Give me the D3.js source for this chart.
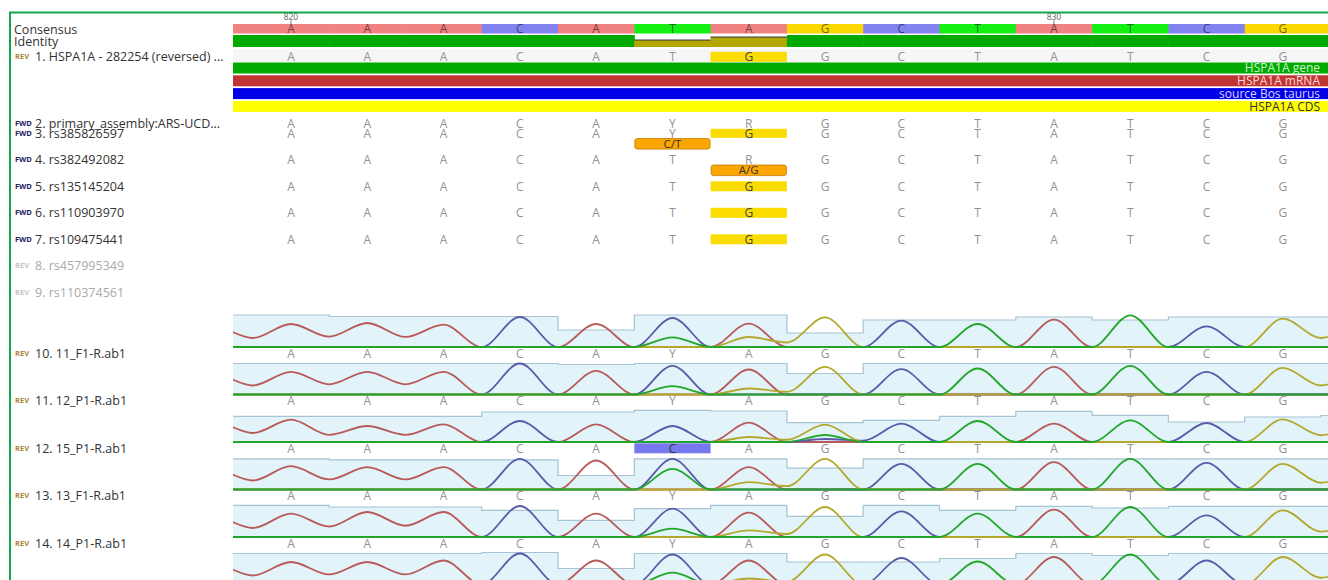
<!DOCTYPE html>
<html>
<head>
<meta charset="utf-8">
<script src="https://cdn.jsdelivr.net/npm/d3@7"></script>
<style>
  body { margin: 0; background: #fff; }
  text { font-family: "Open Sans", "Noto Sans", sans-serif; }
</style>
</head>
<body>
<div id="chart"></div>
<script>
// Alignment columns, including the partial column on each edge
var positions = d3.range(819, 835);
var rulerTicks = [820, 830];
var consensus = ["A","A","A","A","C","A","T","A","G","C","T","A","T","C","G","G"];
var identity = [1, 1, 1, 1, 1, 1, 0.58, 0.83, 1, 1, 1, 1, 1, 1, 1, 1];

// Track names and direction tags
var trackNames = [
  "1. HSPA1A - 282254 (reversed) ...",
  "2. primary_assembly:ARS-UCD...",
  "3. rs385826597",
  "4. rs382492082",
  "5. rs135145204",
  "6. rs110903970",
  "7. rs109475441",
  "8. rs457995349",
  "9. rs110374561",
  "10. 11_F1-R.ab1",
  "11. 12_P1-R.ab1",
  "12. 15_P1-R.ab1",
  "13. 13_F1-R.ab1",
  "14. 14_P1-R.ab1"
];
var trackTags = ["REV","FWD","FWD","FWD","FWD","FWD","FWD","REV","REV","REV","REV","REV","REV","REV"];
var dimmedTracks = [8, 9];

// Sequence rows (columns 819..834)
var seq1 = "AAAACATGGCTATCGG".split("");
var seq2 = "AAAACAYRGCTATCGG".split("");
var seq3 = "AAAACAYGGCTATCGG".split("");
var seq4 = "AAAACATRGCTATCGG".split("");
var seq5 = "AAAACATGGCTATCGG".split("");
var seq6 = "AAAACATGGCTATCGG".split("");
var seq7 = "AAAACATGGCTATCGG".split("");

// Annotation bars under track 1
var featureNames = ["HSPA1A gene", "HSPA1A mRNA", "source Bos taurus", "HSPA1A CDS"];

// Highlighted (disagreeing) bases: track, position, base
var highlights = [
  {track: 1, pos: 826, base: "G"},
  {track: 3, pos: 826, base: "G"},
  {track: 5, pos: 826, base: "G"},
  {track: 6, pos: 826, base: "G"},
  {track: 7, pos: 826, base: "G"},
  {track: 12, pos: 825, base: "C"}
];
// Variation annotations
var variants = [
  {track: 3, pos: 825, text: "C/T"},
  {track: 4, pos: 826, text: "A/G"}
];

// Chromatogram base calls
var calls10 = "AAAACAYAGCTATCGG".split("");
var calls11 = "AAAACAYAGCTATCGG".split("");
var calls12 = "AAAACACAGCTATCGG".split("");
var calls13 = "AAAACAYAGCTATCGG".split("");
var calls14 = "AAAACAYAGCTATCGG".split("");

// Peak heights per base channel (columns 819..834)
var trace10 = {
  A: [20, 23, 24, 22.3, 0, 23, 0, 23.3, 0, 0, 0, 27.3, 0, 0, 0, 0],
  C: [0, 0, 0, 0, 30, 0, 29, 0, 0, 26.3, 0, 0, 0, 20.7, 0, 0],
  G: [0, 0, 0, 0, 0, 0, 0, 10, 29.7, 0, 0, 0, 0, 0, 28.3, 20],
  T: [0, 0, 0, 0, 0, 0, 9.7, 0, 0, 0, 23, 0, 31.7, 0, 0, 0]
};
var trace11 = {
  A: [20, 22.7, 22.7, 22.7, 0, 23.7, 0, 25, 0, 0, 0, 27.7, 0, 0, 0, 0],
  C: [0, 0, 0, 0, 31, 0, 28.7, 0, 0, 25.3, 0, 0, 0, 22.7, 0, 0],
  G: [0, 0, 0, 0, 0, 0, 0, 6, 27.7, 0, 0, 0, 0, 0, 26.7, 20],
  T: [0, 0, 0, 0, 0, 0, 8.3, 0, 0, 0, 26, 0, 28.7, 0, 0, 0]
};
var trace12 = {
  A: [20, 22.3, 16, 17.7, 0, 17.7, 0, 19.3, 0, 0, 0, 18.3, 0, 0, 0, 0],
  C: [0, 0, 0, 0, 21, 0, 16, 0, 3, 18.3, 0, 0, 0, 19, 0, 0],
  G: [0, 0, 0, 0, 0, 0, 0, 5, 17.3, 0, 0, 0, 0, 0, 22.7, 15],
  T: [0, 0, 0, 0, 0, 0, 0, 0, 7, 0, 21, 0, 21.7, 0, 0, 0]
};
var trace13 = {
  A: [20, 23.3, 22.3, 22.3, 0, 29, 0, 22.3, 0, 0, 0, 27.3, 0, 0, 0, 0],
  C: [0, 0, 0, 0, 30.7, 0, 30.7, 0, 0, 25.7, 0, 0, 0, 26.7, 0, 0],
  G: [0, 0, 0, 0, 0, 0, 0, 7.3, 30.7, 0, 0, 0, 0, 0, 25.7, 15],
  T: [0, 0, 0, 0, 0, 0, 20.7, 0, 0, 0, 25.7, 0, 30.7, 0, 0, 0]
};
var trace14 = {
  A: [20, 23.3, 25, 25, 0, 23.3, 0, 24.3, 0, 0, 0, 27.3, 0, 0, 0, 0],
  C: [0, 0, 0, 0, 31, 0, 28.3, 0, 0, 25.7, 0, 0, 0, 21.7, 0, 0],
  G: [0, 0, 0, 0, 0, 0, 0, 6.7, 30, 0, 0, 0, 0, 0, 26.7, 12],
  T: [0, 0, 0, 0, 0, 0, 8.3, 0, 0, 0, 23.3, 0, 30, 0, 0, 0]
};
var trace15 = {
  A: [20, 22.5, 22.5, 24, 0, 24, 0, 24, 0, 0, 0, 27.5, 0, 0, 0, 0],
  C: [0, 0, 0, 0, 31, 0, 30, 0, 0, 26.5, 0, 0, 0, 24, 0, 0],
  G: [0, 0, 0, 0, 0, 0, 0, 6, 30, 0, 0, 0, 0, 0, 27.5, 15],
  T: [0, 0, 0, 0, 0, 0, 11.8, 0, 0, 0, 23, 0, 30, 0, 0, 0]
};

// Per-column quality of each chromatogram
var qual10 = [32, 32, 30.5, 30.5, 30.5, 17, 32, 32, 14, 27, 27, 30, 27, 30, 30, 30];
var qual11 = [31, 31, 31, 31, 31, 30, 31, 31, 21, 31, 31, 31, 31, 31, 31, 31];
var qual12 = [25.7, 25.7, 25.7, 25.7, 30, 30, 31.7, 31, 19.4, 21.7, 25.7, 30.7, 26.7, 20, 25, 26.5];
var qual13 = [30.7, 30.7, 29.7, 29.7, 29.7, 14, 30.7, 30.7, 21.3, 30.7, 30.7, 30.7, 30.7, 30.7, 30.7, 30.7];
var qual14 = [31.7, 31.7, 30, 30, 26.7, 16.7, 28.4, 31.7, 20.7, 31.7, 26.7, 30.7, 29, 30.7, 30.7, 30.7];
var qual15 = [31, 31, 31, 31, 32, 16, 31, 31, 22.5, 22.5, 26, 31, 29, 31, 31, 31];

// ---------------------------------------------------------------
var svgWidth = 1328;
var svgHeight = 580;
var seqLeft = 233;

var baseColors = {A: "#f08282", C: "#8282f0", T: "#14f014", G: "#fad800"};
var traceColors = {A: "#b85a5a", C: "#5a5aaa", G: "#b4a82c", T: "#22a62a"};
var featureFill = ["#00aa00", "#c03434", "#0000e8", "#ffff00"];
var featureText = ["#c8f8c8", "#ffd8d8", "#d8d8ff", "#333333"];

var svg = d3.select("#chart")
  .append("svg")
  .attr("width", svgWidth)
  .attr("height", svgHeight);

svg.append("rect")
  .attr("width", svgWidth)
  .attr("height", svgHeight)
  .attr("fill", "#fff");

// x scale: alignment position -> column center
var x = d3.scaleLinear()
  .domain([819.5, 833.5])
  .range([252.8, 1321]);
var colW = x(1) - x(0);

// peak / quality height scale
var h = d3.scaleLinear().domain([0, 32]).range([0, 32]);

// row layout (text center of each track)
function trackY(t) {
  if (t === 1) return 56.8;
  if (t === 2) return 123.3;
  if (t <= 9) return 133.3 + (t - 3) * 26.5;
  return 353.3 + (t - 10) * 47.5;
}

svg.append("defs").append("clipPath")
  .attr("id", "seqclip")
  .append("rect")
  .attr("x", seqLeft)
  .attr("y", 0)
  .attr("width", svgWidth - seqLeft)
  .attr("height", svgHeight);

var chart = svg.append("g").attr("clip-path", "url(#seqclip)");

function visible(p) {
  return x(p) > seqLeft + 8 && x(p) < svgWidth - 8;
}

// ruler
var ruler = svg.append("g");
ruler.selectAll("text")
  .data(rulerTicks)
  .enter()
  .append("text")
  .attr("x", d => x(d))
  .attr("y", 19.5)
  .attr("text-anchor", "middle")
  .attr("font-size", 8.5)
  .attr("fill", "#666")
  .text(d => d);
ruler.selectAll("line")
  .data(rulerTicks)
  .enter()
  .append("line")
  .attr("x1", d => x(d))
  .attr("x2", d => x(d))
  .attr("y1", 20.5)
  .attr("y2", 24)
  .attr("stroke", "#555")
  .attr("stroke-width", 0.8);

// consensus row
chart.selectAll(".cons")
  .data(positions)
  .enter()
  .append("rect")
  .attr("x", d => x(d - 0.5))
  .attr("y", 24)
  .attr("width", colW + 0.5)
  .attr("height", 9.5)
  .attr("fill", (d, i) => baseColors[consensus[i]]);
chart.selectAll(".consText")
  .data(positions.filter(visible))
  .enter()
  .append("text")
  .attr("x", d => x(d))
  .attr("y", 29)
  .attr("dy", "0.36em")
  .attr("text-anchor", "middle")
  .attr("font-size", 12)
  .attr("fill", "#000")
  .attr("fill-opacity", 0.55)
  .text(d => consensus[positions.indexOf(d)]);

// identity row
chart.selectAll(".ident")
  .data(positions)
  .enter()
  .append("rect")
  .attr("x", d => x(d - 0.5))
  .attr("y", (d, i) => 47 - 12 * identity[i])
  .attr("width", colW + 0.5)
  .attr("height", (d, i) => 12 * identity[i])
  .attr("fill", (d, i) => identity[i] < 1 ? "#b4a800" : "#00aa00");
chart.selectAll(".identTop")
  .data(positions.filter((d, i) => identity[i] < 1))
  .enter()
  .append("line")
  .attr("x1", d => x(d - 0.5))
  .attr("x2", d => x(d + 0.5))
  .attr("y1", d => 47 - 12 * identity[positions.indexOf(d)])
  .attr("y2", d => 47 - 12 * identity[positions.indexOf(d)])
  .attr("stroke", "#333")
  .attr("stroke-width", 1);

// light band behind track 1
chart.append("rect")
  .attr("x", seqLeft)
  .attr("y", 49)
  .attr("width", svgWidth - seqLeft)
  .attr("height", 13)
  .attr("fill", "#f6f6f6");

// annotation bars
var features = chart.selectAll(".feature")
  .data(featureNames)
  .enter()
  .append("g");
features.append("rect")
  .attr("x", seqLeft)
  .attr("y", (d, i) => 62.5 + i * 12.8)
  .attr("width", svgWidth - seqLeft)
  .attr("height", 11)
  .attr("fill", (d, i) => featureFill[i]);
features.append("text")
  .attr("x", 1320)
  .attr("y", (d, i) => 68 + i * 12.8)
  .attr("dy", "0.36em")
  .attr("text-anchor", "end")
  .attr("font-size", 12)
  .attr("fill", (d, i) => featureText[i])
  .text(d => d);

// highlights
chart.selectAll(".hl")
  .data(highlights)
  .enter()
  .append("rect")
  .attr("x", d => x(d.pos - 0.5))
  .attr("y", d => trackY(d.track) - (d.track === 3 ? 4.5 : 5))
  .attr("width", colW)
  .attr("height", d => d.track === 3 ? 9 : 10)
  .attr("fill", d => d.base === "C" ? "#7878ee" : "#fadc00");

// variation boxes
var vars = chart.selectAll(".variant")
  .data(variants)
  .enter()
  .append("g");
vars.append("rect")
  .attr("x", d => x(d.pos - 0.5) + 0.5)
  .attr("y", d => trackY(d.track) + 5.2)
  .attr("width", colW - 1)
  .attr("height", 10.6)
  .attr("rx", 2.5)
  .attr("fill", "#fca600")
  .attr("stroke", "#c47e00")
  .attr("stroke-width", 0.8);
vars.append("text")
  .attr("x", d => x(d.pos))
  .attr("y", d => trackY(d.track) + 10.5)
  .attr("dy", "0.36em")
  .attr("text-anchor", "middle")
  .attr("font-size", 11.5)
  .attr("fill", "#333")
  .text(d => d.text);

// sequence letters
var seqRows = [seq1, seq2, seq3, seq4, seq5, seq6, seq7];
seqRows.forEach(function(seq, k) {
  var t = k + 1;
  chart.append("g")
    .selectAll("text")
    .data(positions.filter(visible))
    .enter()
    .append("text")
    .attr("x", d => x(d))
    .attr("y", trackY(t))
    .attr("dy", "0.36em")
    .attr("text-anchor", "middle")
    .attr("font-size", 12)
    .attr("fill", d => highlights.some(hh => hh.track === t && hh.pos === d) ? "#444" : "#929292")
    .text(d => seq[positions.indexOf(d)]);
});

// chromatograms
var traces = [trace10, trace11, trace12, trace13, trace14, trace15];
var quals = [qual10, qual11, qual12, qual13, qual14, qual15];
var callRows = [calls10, calls11, calls12, calls13, calls14, null];

var line = d3.line()
  .x(d => d[0])
  .y(d => d[1])
  .curve(d3.curveMonotoneX);

traces.forEach(function(tr, k) {
  var t = 10 + k;
  var base = trackY(t) - 6.3;
  var qual = quals[k];
  var g = chart.append("g");

  // quality boxes
  g.selectAll("rect")
    .data(positions)
    .enter()
    .append("rect")
    .attr("x", d => x(d - 0.5))
    .attr("y", (d, i) => base - h(qual[i]))
    .attr("width", colW + 0.5)
    .attr("height", (d, i) => h(qual[i]))
    .attr("fill", "#e2f3f9");
  var qpts = positions.map((d, i) => [x(d - 0.5), base - h(qual[i])]);
  qpts.push([x(positions[positions.length - 1] + 0.5), base - h(qual[qual.length - 1])]);
  g.append("path")
    .attr("d", d3.line().curve(d3.curveStepAfter)(qpts))
    .attr("fill", "none")
    .attr("stroke", "#a6c4d4")
    .attr("stroke-width", 1.2);

  // traces, one per base
  ["A", "C", "G", "T"].forEach(function(b) {
    var peaks = tr[b];
    var pts = [];
    positions.forEach(function(p, i) {
      var prev = i === 0 ? peaks[0] : peaks[i - 1];
      pts.push([x(p - 0.5), base - h(0.45 * Math.min(prev, peaks[i]))]);
      pts.push([x(p), base - h(peaks[i])]);
    });
    var last = positions.length - 1;
    pts.push([x(positions[last] + 0.5), base - h(0.45 * peaks[last])]);
    g.append("path")
      .attr("d", line(pts))
      .attr("fill", "none")
      .attr("stroke", traceColors[b])
      .attr("stroke-width", 1.8)
      .attr("stroke-linejoin", "round");
  });

  // base calls
  var calls = callRows[k];
  if (calls) {
    g.selectAll("text")
      .data(positions.filter(visible))
      .enter()
      .append("text")
      .attr("x", d => x(d))
      .attr("y", trackY(t))
      .attr("dy", "0.36em")
      .attr("text-anchor", "middle")
      .attr("font-size", 12)
      .attr("fill", d => highlights.some(hh => hh.track === t && hh.pos === d) ? "#333" : "#929292")
      .text(d => calls[positions.indexOf(d)]);
  }
});

// left labels
var labels = svg.append("g");
labels.append("text")
  .attr("x", 14)
  .attr("y", 29)
  .attr("dy", "0.36em")
  .attr("font-size", 12.5)
  .attr("fill", "#333")
  .text("Consensus");
labels.append("text")
  .attr("x", 14)
  .attr("y", 41)
  .attr("dy", "0.36em")
  .attr("font-size", 12.5)
  .attr("fill", "#333")
  .text("Identity");

var trackLabel = labels.selectAll(".track")
  .data(trackNames)
  .enter()
  .append("g");
trackLabel.append("text")
  .attr("x", 15)
  .attr("y", (d, i) => trackY(i + 1))
  .attr("dy", "0.3em")
  .attr("font-size", 7.5)
  .attr("font-weight", "bold")
  .attr("fill", (d, i) => dimmedTracks.includes(i + 1) ? "#c4c4c4" : (trackTags[i] === "REV" ? "#a8873a" : "#22225e"))
  .text((d, i) => trackTags[i]);
trackLabel.append("text")
  .attr("x", 35)
  .attr("y", (d, i) => trackY(i + 1))
  .attr("dy", "0.36em")
  .attr("font-size", 12.5)
  .attr("fill", (d, i) => dimmedTracks.includes(i + 1) ? "#aaaaaa" : "#333")
  .text(d => d);

// frame
svg.append("rect")
  .attr("x", 10)
  .attr("y", 12.5)
  .attr("width", svgWidth)
  .attr("height", svgHeight)
  .attr("fill", "none")
  .attr("stroke", "#12a84a")
  .attr("stroke-width", 2);
</script>
</body>
</html>
